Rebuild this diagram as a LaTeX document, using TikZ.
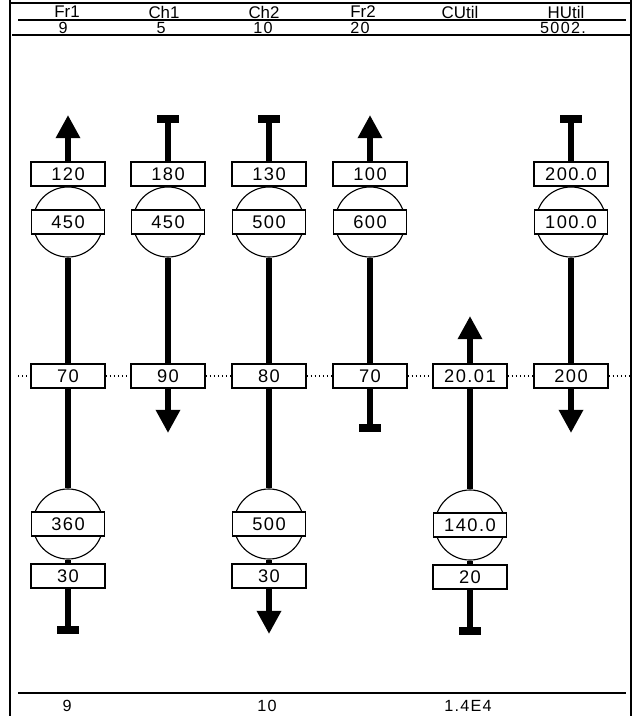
\documentclass[tikz,border=0pt]{standalone}
\usepackage{fontspec}
\setmainfont{Liberation Sans}
\newfontfamily\digfont[LetterSpace=8]{Liberation Sans}
\usetikzlibrary{arrows.meta}

\begin{document}
\begin{tikzpicture}[x=0.025cm, y=-0.025cm,
    lbl/.style={font=\fontsize{12}{13}\selectfont, inner sep=0pt},
    val/.style={font=\digfont\fontsize{11.5}{13}\selectfont, inner sep=0pt},
    tbox/.style={rectangle, draw, fill=white, line width=0.8pt, minimum width=1.85cm, minimum height=0.6cm, inner sep=1pt, font=\digfont\fontsize{13}{14}\selectfont},
    ball/.style={circle, draw, line width=0.8pt, minimum size=1.75cm, inner sep=0pt},
    ballbox/.style={tbox, minimum width=1.82cm},
    stream/.style={line width=0.17cm},
    arrow/.style={stream, -{Triangle[length=0.58cm, width=0.58cm]}},
    stop/.style={stream, -{Rectangle[length=0.2cm, width=0.55cm]}},
    temp/.style={dotted, line width=0.9pt}
]
\useasboundingbox (0,0) rectangle (634,716);

% Frame
\draw[line width=0.9pt] (10,0) -- (10,716);
\draw[line width=0.9pt] (631,0) -- (631,716);
\draw[line width=0.9pt] (10,3) -- (631,3);
\draw[line width=0.9pt] (18,20) -- (626,20);
\draw[line width=1.6pt] (12,35) -- (631,35);
\draw[line width=1.3pt] (18,693) -- (626,693);

% Header
\node[lbl] (hfr1) at (67,12) {Fr1};
\node[lbl] (hch1) at (164,12) {Ch1};
\node[lbl] (hch2) at (264,12) {Ch2};
\node[lbl] (hfr2) at (363,12) {Fr2};
\node[lbl] (hcu) at (460,12) {CUtil};
\node[lbl] (hhu) at (566,12) {HUtil};
\node[val] (vfr1) at (63,28) {9};
\node[val] (vch1) at (161,28) {5};
\node[val] (vch2) at (263,28) {10};
\node[val] (vfr2) at (360,28) {20};
\node[val] (vhu) at (563,28) {5002.};

% Footer
\node[val] (ffr1) at (67,706) {9};
\node[val] (fch2) at (267,706) {10};
\node[val] (fcu) at (468,706) {1.4E4};

% Stream ends
\coordinate (fr1a) at (68,115);
\coordinate (fr1z) at (68,634);
\coordinate (ch1a) at (168,115);
\coordinate (ch1z) at (168,433);
\coordinate (ch2a) at (269,115);
\coordinate (ch2z) at (269,634);
\coordinate (fr2a) at (370,115);
\coordinate (fr2z) at (370,432);
\coordinate (cua) at (470,316);
\coordinate (cuz) at (470,635);
\coordinate (hua) at (571,115);
\coordinate (huz) at (571,433);
\coordinate (tl) at (18,376);
\coordinate (tr) at (630,376);

% Fr1
\node[tbox] (fr1t) at (68,174) {120};
\node[ball] (fr1b) at (68,222) {};
\node[ballbox] (fr1bt) at (68,222) {450};
\node[tbox] (fr1m) at (68,376) {70};
\node[ball] (fr1c) at (68,524) {};
\node[ballbox] (fr1ct) at (68,524) {360};
\node[tbox] (fr1d) at (68,576) {30};

% Ch1
\node[tbox] (ch1t) at (168,174) {180};
\node[ball] (ch1b) at (168,222) {};
\node[ballbox] (ch1bt) at (168,222) {450};
\node[tbox] (ch1m) at (168,376) {90};

% Ch2
\node[tbox] (ch2t) at (269,174) {130};
\node[ball] (ch2b) at (269,222) {};
\node[ballbox] (ch2bt) at (269,222) {500};
\node[tbox] (ch2m) at (269,376) {80};
\node[ball] (ch2c) at (269,524) {};
\node[ballbox] (ch2ct) at (269,524) {500};
\node[tbox] (ch2d) at (269,576) {30};

% Fr2
\node[tbox] (fr2t) at (370,174) {100};
\node[ball] (fr2b) at (370,222) {};
\node[ballbox] (fr2bt) at (370,222) {600};
\node[tbox] (fr2m) at (370,376) {70};

% CUtil
\node[tbox] (cum) at (470,376) {20.01};
\node[ball] (cuc) at (470,525) {};
\node[ballbox] (cuct) at (470,525) {140.0};
\node[tbox] (cud) at (470,577) {20};

% HUtil
\node[tbox] (hut) at (571,174) {200.0};
\node[ball] (hub) at (571,222) {};
\node[ballbox] (hubt) at (571,222) {100.0};
\node[tbox] (hum) at (571,376) {200};

% Temperature line
\draw[temp] (tl) -- (fr1m);
\draw[temp] (fr1m) -- (ch1m);
\draw[temp] (ch1m) -- (ch2m);
\draw[temp] (ch2m) -- (fr2m);
\draw[temp] (fr2m) -- (cum);
\draw[temp] (cum) -- (hum);
\draw[temp] (hum) -- (tr);

% Streams
\draw[arrow] (fr1t) -- (fr1a);
\draw[stream] (fr1t) -- (fr1b);
\draw[stream] (fr1b) -- (fr1m);
\draw[stream] (fr1m) -- (fr1c);
\draw[stream] (fr1c) -- (fr1d);
\draw[stop] (fr1d) -- (fr1z);

\draw[stop] (ch1t) -- (ch1a);
\draw[stream] (ch1t) -- (ch1b);
\draw[stream] (ch1b) -- (ch1m);
\draw[arrow] (ch1m) -- (ch1z);

\draw[stop] (ch2t) -- (ch2a);
\draw[stream] (ch2t) -- (ch2b);
\draw[stream] (ch2b) -- (ch2m);
\draw[stream] (ch2m) -- (ch2c);
\draw[stream] (ch2c) -- (ch2d);
\draw[arrow] (ch2d) -- (ch2z);

\draw[arrow] (fr2t) -- (fr2a);
\draw[stream] (fr2t) -- (fr2b);
\draw[stream] (fr2b) -- (fr2m);
\draw[stop] (fr2m) -- (fr2z);

\draw[arrow] (cum) -- (cua);
\draw[stream] (cum) -- (cuc);
\draw[stream] (cuc) -- (cud);
\draw[stop] (cud) -- (cuz);

\draw[stop] (hut) -- (hua);
\draw[stream] (hut) -- (hub);
\draw[stream] (hub) -- (hum);
\draw[arrow] (hum) -- (huz);
\end{tikzpicture}
\end{document}
